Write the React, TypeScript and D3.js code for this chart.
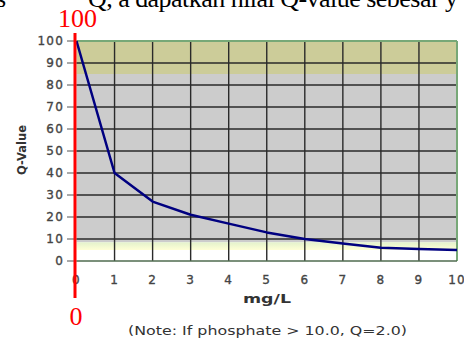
import React from 'react';
import * as d3 from 'd3';

// phosphate (mg/L) vs Q-value
const phosphate = [0, 1, 2, 3, 4, 5, 6, 7, 8, 9, 10];
const qValue = [100, 40, 27, 21, 17, 13, 10, 8, 6, 5.5, 5];
const xTicks = [0, 1, 2, 3, 4, 5, 6, 7, 8, 9, 10];
const yTicks = [0, 10, 20, 30, 40, 50, 60, 70, 80, 90, 100];
// shaded bands behind the grid: [from, to, colour]
const bands: [number, number, string][] = [
  [85, 100, '#cccc99'],
  [8.5, 85, '#cccccc'],
  [5, 8.5, 'url(#paleBand)'],
];

const W = 464;
const H = 345;

export default function App() {
  const x = d3.scaleLinear().domain([0, 10]).range([76.5, 457]);
  const y = d3.scaleLinear().domain([0, 100]).range([261, 41]);

  const line = d3
    .line<number>()
    .x((_, i) => x(phosphate[i]))
    .y((d) => y(d));

  const font = 'DejaVu Sans, Verdana, sans-serif';
  const tickStyle = {
    fontFamily: font,
    fontSize: 12,
    letterSpacing: 1.2,
    fill: '#444',
    stroke: '#444',
    strokeWidth: 0.35,
  };

  return (
    <svg
      width={W}
      height={H}
      style={{ position: 'absolute', left: 0, top: 0, background: '#fff' }}
    >
      <defs>
        <linearGradient id="paleBand" x1="0" y1="0" x2="0" y2="1">
          <stop offset="0" stopColor="#e4f2cc" />
          <stop offset="1" stopColor="#ffffd6" />
        </linearGradient>
      </defs>

      {/* cut-off caption line above the chart */}
      <g fontFamily="Liberation Serif, Times New Roman, serif" fontSize={26} fill="#000">
        <text x={-4} y={7}>s</text>
        <text x={88} y={7} textLength={370} lengthAdjust="spacing">
          Q, a dapatkan nilai Q-value sebesar y
        </text>
      </g>

      {/* background bands */}
      {bands.map(([lo, hi, c], i) => (
        <rect key={i} x={x(0)} y={y(hi)} width={x(10) - x(0)} height={y(lo) - y(hi)} fill={c} />
      ))}

      {/* grid */}
      {xTicks.slice(1, -1).map((t) => (
        <line key={'vx' + t} x1={x(t)} x2={x(t)} y1={y(0)} y2={y(100)} stroke="#2a2a2a" strokeWidth={1.4} />
      ))}
      {yTicks.slice(1, -1).map((t) => (
        <line key={'hy' + t} x1={x(0)} x2={x(10)} y1={y(t)} y2={y(t)} stroke="#2a2a2a" strokeWidth={1.4} />
      ))}

      {/* frame */}
      <line x1={x(0)} x2={x(10)} y1={y(100)} y2={y(100)} stroke="#77a877" strokeWidth={2} />
      <line x1={x(10)} x2={x(10)} y1={y(0)} y2={y(100)} stroke="#77a877" strokeWidth={2} />
      <line x1={x(0)} x2={x(10)} y1={y(0)} y2={y(0)} stroke="#4f6b4f" strokeWidth={1.6} />

      {/* y axis ticks + labels */}
      {yTicks.map((t) => (
        <g key={'yt' + t}>
          <line x1={67} x2={x(0)} y1={y(t)} y2={y(t)} stroke="#555" strokeWidth={1} />
          <text x={64} y={y(t)} dy="0.36em" textAnchor="end" {...tickStyle}>
            {t}
          </text>
        </g>
      ))}

      {/* x axis labels */}
      {xTicks.map((t) => (
        <text key={'xt' + t} x={x(t)} y={284} textAnchor="middle" {...tickStyle}>
          {t}
        </text>
      ))}

      {/* axis titles */}
      <text
        transform="translate(26,150) rotate(-90)"
        textAnchor="middle"
        fontFamily={font}
        fontSize={12}
        fontWeight="bold"
        fill="#333"
        textLength={50}
        lengthAdjust="spacingAndGlyphs"
      >
        Q-Value
      </text>
      <text
        x={267}
        y={303}
        textAnchor="middle"
        fontFamily={font}
        fontSize={12}
        fontWeight="bold"
        fill="#333"
        textLength={48}
        lengthAdjust="spacingAndGlyphs"
      >
        mg/L
      </text>
      <text
        x={267.5}
        y={335}
        textAnchor="middle"
        fontFamily={font}
        fontSize={11.5}
        fill="#333"
        textLength={279}
        lengthAdjust="spacingAndGlyphs"
      >
        (Note: If phosphate &gt; 10.0, Q=2.0)
      </text>

      {/* Q-value curve */}
      <path d={line(qValue) ?? ''} fill="none" stroke="#000080" strokeWidth={2.5} strokeLinejoin="round" />

      {/* red annotation */}
      <line x1={75} x2={75} y1={33} y2={298} stroke="#ff0000" strokeWidth={3} />
      <g fontFamily="Liberation Serif, Times New Roman, serif" fontSize={26} fill="#ff0000" textAnchor="middle">
        <text x={77.5} y={27}>100</text>
        <text x={76} y={325}>0</text>
      </g>
    </svg>
  );
}
